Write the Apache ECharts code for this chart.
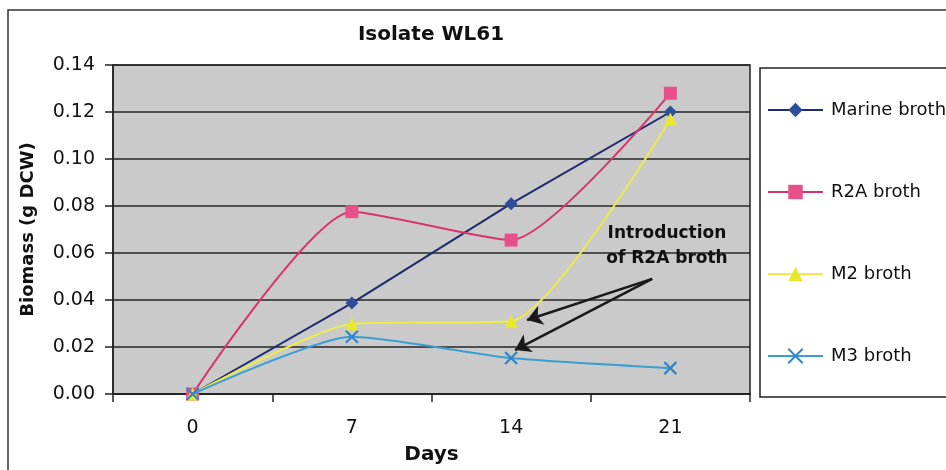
<!DOCTYPE html>
<html>
<head>
<meta charset="utf-8">
<script src="https://cdn.jsdelivr.net/npm/echarts@6/dist/echarts.min.js"></script>
<style>
  html, body { margin: 0; padding: 0; background: #ffffff; }
  #chart { width: 946px; height: 470px; }
</style>
</head>
<body>
<div id="chart"></div>
<script>
// Sampling days
const days = ['0', '7', '14', '21'];

// Biomass (g DCW) per medium
const marineBroth = [0, 0.0387, 0.0810, 0.1200];
const r2aBroth    = [0, 0.0776, 0.0655, 0.1280];
const m2Broth     = [0, 0.0298, 0.0310, 0.1170];
const m3Broth     = [0, 0.0244, 0.0153, 0.0110];

// Y axis ticks
const yTicks = [0, 0.02, 0.04, 0.06, 0.08, 0.10, 0.12, 0.14];

// Note pointing at the day-14 M2 / M3 points (day, biomass on a continuous day scale)
const noteText = ['Introduction', 'of R2A broth'];
const noteAnchor = [20.85, 0.0630];
const arrowTail = [20.2, 0.049];
const arrowHeads = [[14.7, 0.0315], [14.17, 0.0187]];

const FONT = 'DejaVu Sans';
const SMOOTH = 0.2;
const chart = echarts.init(document.getElementById('chart'), null, { renderer: 'canvas' });

const option = {
  animation: false,
  backgroundColor: '#ffffff',
  title: {
    text: 'Isolate WL61',
    left: 426,
    top: 20,
    textAlign: 'center',
    textStyle: { fontFamily: FONT, fontSize: 20, fontWeight: 'bold', color: '#111' }
  },
  graphic: [
    {
      type: 'rect',
      shape: { x: 8, y: 10, width: 960, height: 480 },
      style: { fill: 'none', stroke: '#333', lineWidth: 1.5 },
      silent: true, z: -1
    },
    {
      type: 'rect',
      shape: { x: 760, y: 68, width: 220, height: 329 },
      style: { fill: '#ffffff', stroke: '#222', lineWidth: 1.5 },
      silent: true, z: 0
    }
  ],
  legend: {
    orient: 'vertical',
    left: 767,
    top: 101,
    itemWidth: 55,
    itemHeight: 18,
    itemGap: 64,
    padding: 0,
    z: 5,
    data: ['Marine broth', 'R2A broth', 'M2 broth', 'M3 broth'],
    textStyle: { fontFamily: FONT, fontSize: 18, color: '#111', lineHeight: 18, padding: [0, 0, 0, 3] }
  },
  grid: {
    left: 113, top: 65, right: 196, bottom: 76,
    show: true,
    backgroundColor: '#cacaca',
    borderColor: '#222',
    borderWidth: 1.5
  },
  xAxis: [
    {
      type: 'category',
      data: days,
      boundaryGap: true,
      name: 'Days',
      nameLocation: 'middle',
      nameGap: 51,
      nameTextStyle: { fontFamily: FONT, fontSize: 20, fontWeight: 'bold', color: '#111' },
      axisLine: { onZero: false, lineStyle: { color: '#222', width: 1.5 } },
      axisTick: { show: true, inside: false, length: 8, alignWithLabel: false, lineStyle: { color: '#222', width: 1.5 } },
      axisLabel: { margin: 25, fontFamily: FONT, fontSize: 19, color: '#111' },
      splitLine: { show: false }
    },
    {
      // continuous day scale spanning the same band layout, used for the note
      type: 'value',
      show: false,
      min: -3.5,
      max: 24.5
    }
  ],
  yAxis: {
    type: 'value',
    min: yTicks[0],
    max: yTicks[yTicks.length - 1],
    interval: 0.02,
    name: 'Biomass (g DCW)',
    nameLocation: 'middle',
    nameGap: 76,
    nameRotate: 90,
    nameTextStyle: { fontFamily: FONT, fontSize: 18, fontWeight: 'bold', color: '#111' },
    axisLine: { show: true, onZero: false, lineStyle: { color: '#222', width: 1.5 } },
    axisTick: { show: true, length: 8, lineStyle: { color: '#222', width: 1.5 } },
    axisLabel: {
      margin: 18,
      fontFamily: FONT,
      fontSize: 19,
      color: '#111',
      formatter: v => v.toFixed(2)
    },
    splitLine: { show: true, lineStyle: { color: '#262626', width: 1.5 } }
  },
  series: [
    {
      name: 'Marine broth',
      type: 'line',
      data: marineBroth,
      smooth: false,
      symbol: 'diamond',
      symbolSize: 13,
      lineStyle: { color: '#1f2a6e', width: 2 },
      itemStyle: { color: '#2d4f9a', borderColor: '#2d4f9a', borderWidth: 0 },
      z: 3
    },
    {
      name: 'R2A broth',
      type: 'line',
      data: r2aBroth,
      smooth: SMOOTH,
      symbol: 'rect',
      symbolSize: 13,
      lineStyle: { color: '#d8346c', width: 2 },
      itemStyle: { color: '#e8508a', borderWidth: 0 },
      z: 3
    },
    {
      name: 'M2 broth',
      type: 'line',
      data: m2Broth,
      smooth: SMOOTH,
      symbol: 'triangle',
      symbolSize: 13,
      lineStyle: { color: '#ecec4a', width: 2 },
      itemStyle: { color: '#e8e82a', borderWidth: 0 },
      z: 3
    },
    {
      name: 'M3 broth',
      type: 'line',
      data: m3Broth,
      smooth: SMOOTH,
      symbol: 'path://M0,0L10,10M0,10L10,0',
      symbolSize: 12,
      lineStyle: { color: '#3a9fd0', width: 2 },
      itemStyle: { color: 'rgba(0,0,0,0)', borderColor: '#2f86c8', borderWidth: 2.2 },
      z: 4
    },
    {
      name: 'note',
      type: 'scatter',
      xAxisIndex: 1,
      yAxisIndex: 0,
      data: [],
      silent: true,
      z: 6,
      markLine: {
        silent: true,
        symbol: ['none', 'arrow'],
        symbolSize: 15,
        lineStyle: { color: '#1a1a1a', width: 2.5, type: 'solid' },
        itemStyle: { color: '#1a1a1a' },
        label: { show: false },
        data: arrowHeads.map(h => [{ coord: arrowTail }, { coord: h }])
      },
      markPoint: {
        silent: true,
        symbol: 'circle',
        symbolSize: 0,
        label: {
          show: true,
          position: 'inside',
          formatter: noteText.join('\n'),
          fontFamily: FONT,
          fontSize: 17,
          fontWeight: 'bold',
          lineHeight: 25,
          align: 'center',
          color: '#111'
        },
        data: [{ coord: noteAnchor }]
      }
    }
  ]
};

chart.setOption(option);
</script>
</body>
</html>
